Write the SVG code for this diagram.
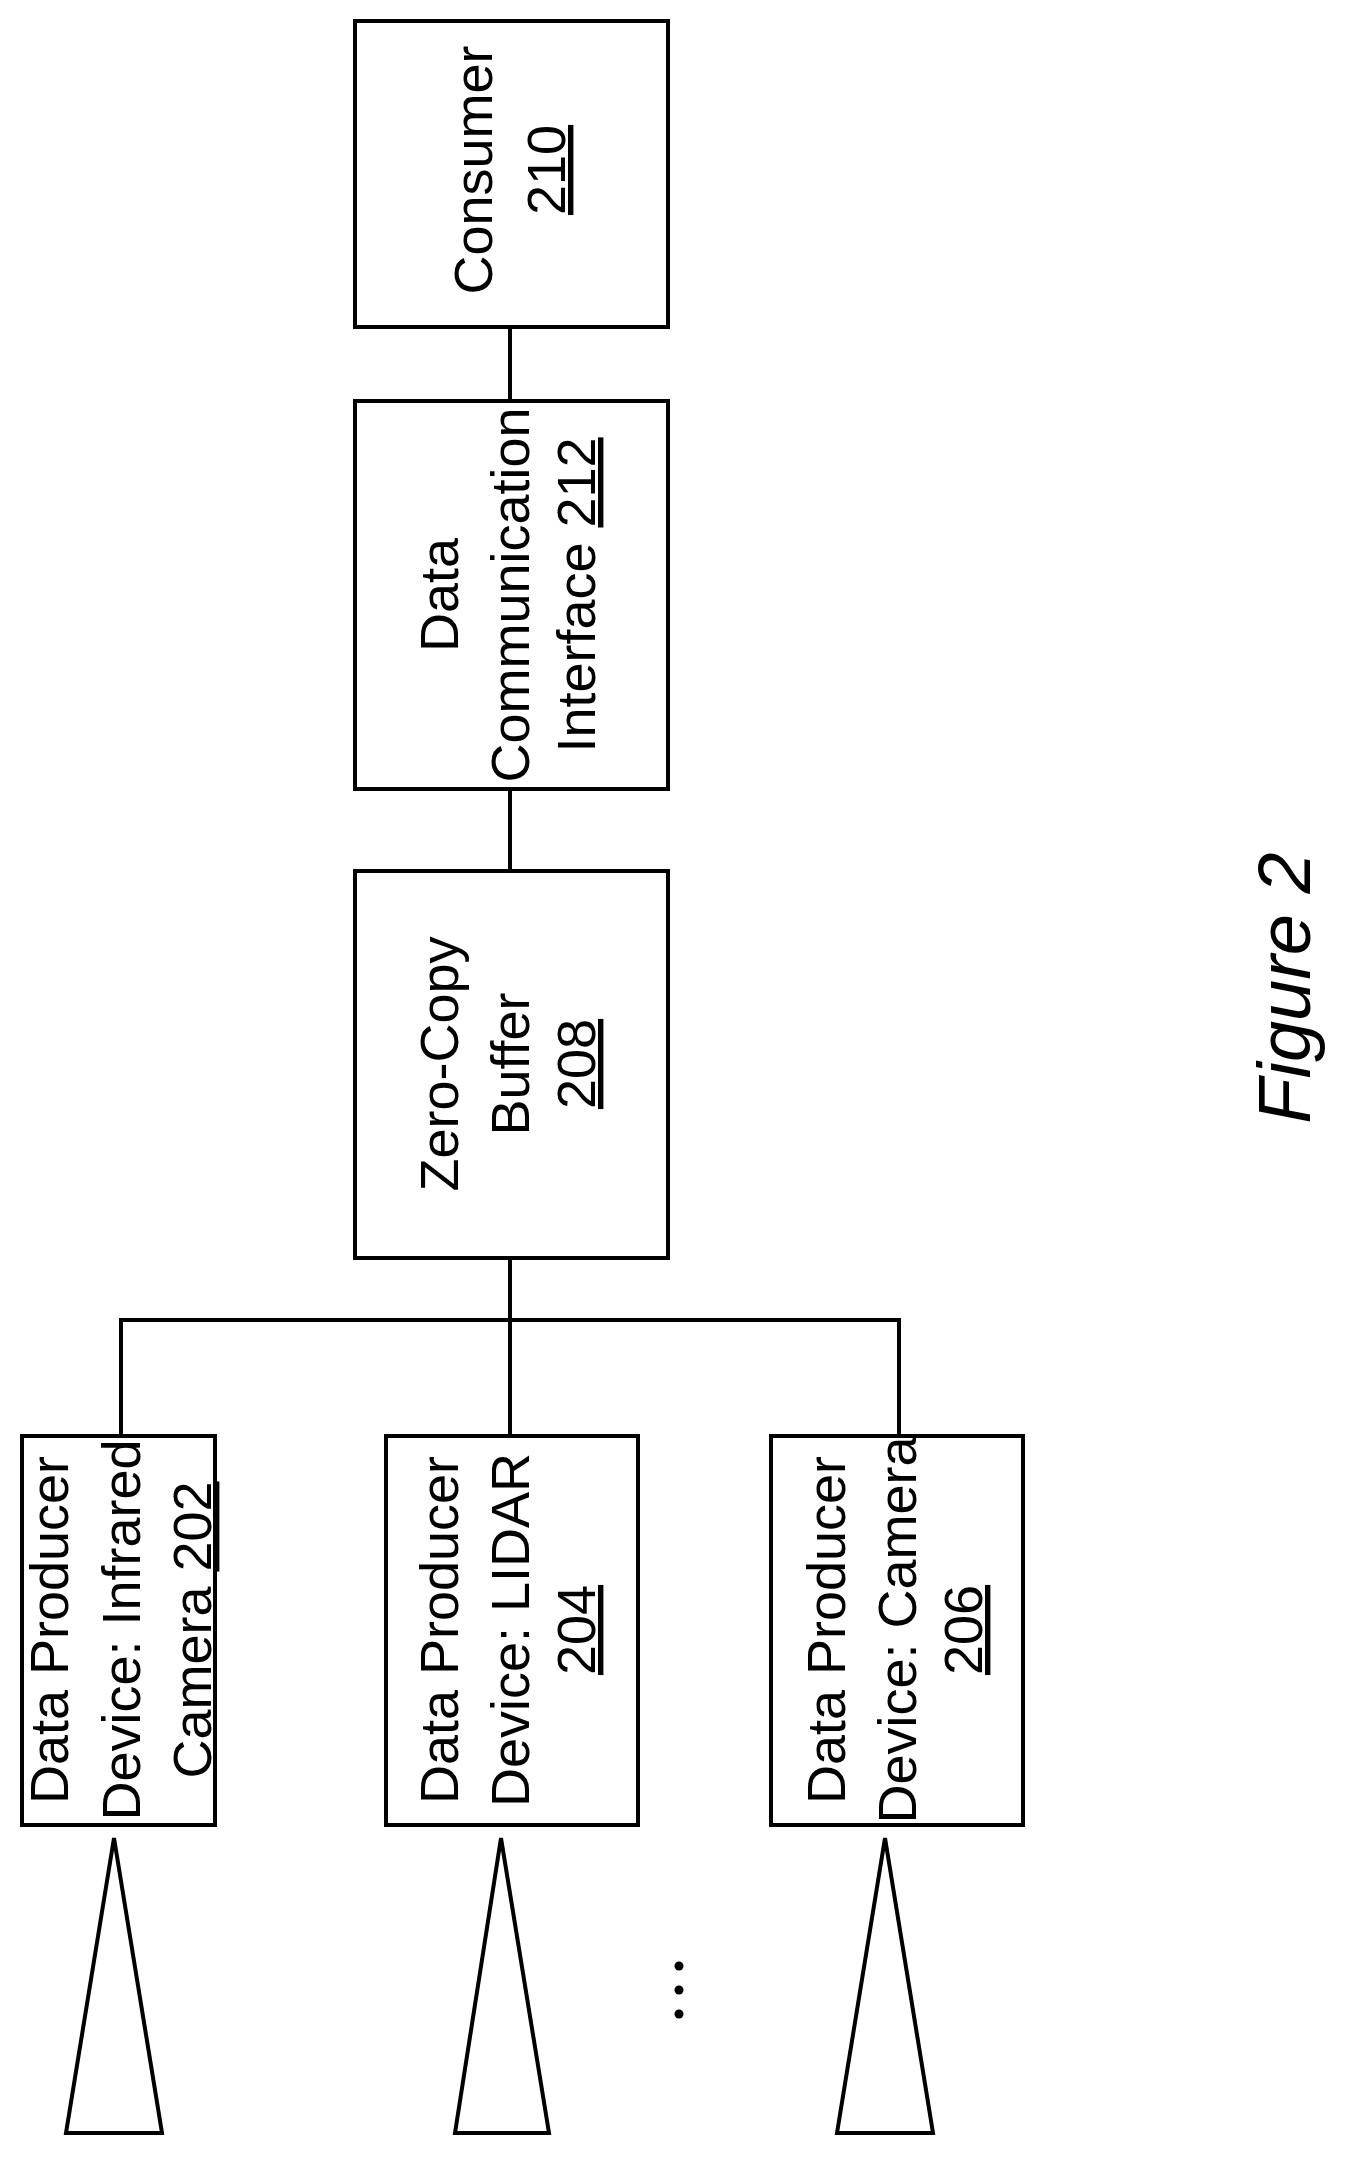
<svg xmlns="http://www.w3.org/2000/svg" width="1372" height="2183" viewBox="0 0 1372 2183">
<style>
.b{fill:#fff;stroke:#000;stroke-width:4}
.l{fill:none;stroke:#000;stroke-width:4}
text{font-family:"Liberation Sans",Arial,sans-serif;font-size:54px;text-anchor:middle;fill:#000}
.u{text-decoration:underline}
</style>
<rect width="1372" height="2183" fill="#fff"/>
<g id="connectors">
<path class="l" d="M510 327V401M510 789V871M510 1258V1436M121 1436V1320H899V1436"/>
</g>
<g id="n210"><rect class="b" x="355" y="21" width="313" height="306"/>
<text transform="translate(492,170) rotate(-90)">Consumer</text>
<text transform="translate(565,170) rotate(-90)" class="u">210</text></g>
<g id="n212"><rect class="b" x="355" y="401" width="313" height="388"/>
<text transform="translate(458,595) rotate(-90)">Data</text>
<text transform="translate(529,595) rotate(-90)">Communication</text>
<text transform="translate(595,595) rotate(-90)">Interface <tspan class="u">212</tspan></text></g>
<g id="n208"><rect class="b" x="355" y="871" width="313" height="387"/>
<text transform="translate(458,1064) rotate(-90)">Zero-Copy</text>
<text transform="translate(529,1064) rotate(-90)">Buffer</text>
<text transform="translate(595,1064) rotate(-90)" class="u">208</text></g>
<g id="n202"><rect class="b" x="22" y="1436" width="193" height="389"/>
<text transform="translate(68,1630) rotate(-90)">Data Producer</text>
<text transform="translate(140,1630) rotate(-90)">Device: Infrared</text>
<text transform="translate(211,1630) rotate(-90)">Camera <tspan class="u">202</tspan></text></g>
<g id="n204"><rect class="b" x="386" y="1436" width="252" height="389"/>
<text transform="translate(458,1630) rotate(-90)">Data Producer</text>
<text transform="translate(529,1630) rotate(-90)">Device: LIDAR</text>
<text transform="translate(595,1630) rotate(-90)" class="u">204</text></g>
<g id="n206"><rect class="b" x="771" y="1436" width="252" height="389"/>
<text transform="translate(845,1630) rotate(-90)">Data Producer</text>
<text transform="translate(916,1630) rotate(-90)">Device: Camera</text>
<text transform="translate(982,1630) rotate(-90)" class="u">206</text></g>
<g id="sensors">
<path class="l" d="M114 1838L66 2133H162Z"/>
<path class="l" d="M501 1838L455 2133H549Z"/>
<path class="l" d="M885 1838L837 2133H933Z"/>
<circle cx="679" cy="1966" r="4.5"/><circle cx="679" cy="1990" r="4.5"/><circle cx="679" cy="2014" r="4.5"/>
</g>
<text transform="translate(1310,988) rotate(-90)" style="font-size:74px;font-style:italic">Figure 2</text>
</svg>
